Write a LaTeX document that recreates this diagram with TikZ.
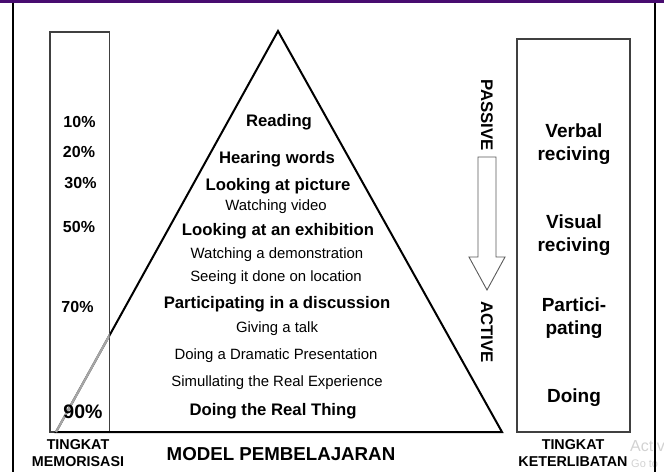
\documentclass[tikz,border=0pt]{standalone}
\usepackage{fontspec}
\setmainfont{Liberation Sans}
\definecolor{bandpurple}{RGB}{72,12,112}

\begin{document}
\begin{tikzpicture}[x=1pt,y=-1pt,
    big/.style={font=\bfseries\fontsize{16.7}{18}\selectfont},
    small/.style={font=\fontsize{14.9}{16}\selectfont},
    pct/.style={font=\bfseries\fontsize{16}{17}\selectfont},
    side/.style={font=\bfseries\fontsize{19}{23}\selectfont, align=center},
    foot/.style={font=\bfseries\fontsize{14.3}{17}\selectfont, align=center},
    vert/.style={font=\bfseries\fontsize{16.8}{17}\selectfont, rotate=-90}]
\useasboundingbox (0,0) rectangle (664,472);
% frame
\fill[bandpurple] (0,0) rectangle (664,2.5);
\draw[line width=2pt] (13,2.5) -- (13,472);
% side boxes
\draw[black!75, line width=1.2pt] (50,32) rectangle (109.5,432);
\draw[black!75, line width=1.2pt] (517,39) rectangle (630,432);
% pyramid
\coordinate (apex) at (278,31);
\coordinate (bl) at (56,432);
\coordinate (br) at (502,432);
\draw[line width=2pt, line join=miter] (bl) -- (apex) -- (br) -- cycle;
\begin{scope}
  \clip (50,32) rectangle (109.5,440);
  \draw[gray!70, line width=2.2pt] (bl) -- (apex);
\end{scope}
\draw[line width=2pt] (109.5,432) -- (br);
% percentages
\node[pct] (p10) at (79.5,122) {10\%};
\node[pct] (p20) at (79,152) {20\%};
\node[pct] (p30) at (80.5,183) {30\%};
\node[pct] (p50) at (79,227) {50\%};
\node[pct] (p70) at (77.5,307) {70\%};
\node[font=\bfseries\fontsize{19.5}{20}\selectfont] (p90) at (83,412) {90\%};
% pyramid entries
\node[big]   (reading)  at (279,122) {Reading};
\node[big]   (hearing)  at (277,159) {Hearing words};
\node[big]   (picture)  at (278,186) {Looking at picture};
\node[small] (video)    at (276,207) {Watching video};
\node[big]   (exhib)    at (278,231) {Looking at an exhibition};
\node[small] (demo)     at (277,255) {Watching a demonstration};
\node[small] (seeing)   at (276,278) {Seeing it done on location};
\node[big]   (discuss)  at (277,304) {Participating in a discussion};
\node[small] (talk)     at (277,329) {Giving a talk};
\node[small] (drama)    at (276,356) {Doing a Dramatic Presentation};
\node[small] (simul)    at (277,383) {Simullating the Real Experience};
\node[big]   (real)     at (273,411) {Doing the Real Thing};
% passive / active
\node[vert] (passive) at (487,115) {PASSIVE};
\draw[black!65, line width=0.9pt] (478,157) -- (496,157) -- (496,257) -- (505,257)
    -- (487,290) -- (469,257) -- (478,257) -- cycle;
\node[vert] (active) at (487,332) {ACTIVE};
% involvement
\node[side] (verbal) at (574,144) {Verbal\\reciving};
\node[side] (visual) at (574,235) {Visual\\reciving};
\node[side] (partic) at (574,318) {Partici-\\pating};
\node[side] (doing)  at (574,398) {Doing};
% captions
\node[foot] (memo)  at (78,453) {TINGKAT\\MEMORISASI};
\node[font=\bfseries\fontsize{18.7}{19}\selectfont] (model) at (281,454) {MODEL PEMBELAJARAN};
\node[foot] (keter) at (573,453) {TINGKAT\\KETERLIBATAN};
% watermark
\node[gray!35, font=\fontsize{16}{16}\selectfont, anchor=west, inner sep=0pt] (act) at (630,446) {Activ};
\node[gray!35, font=\fontsize{11}{11}\selectfont, anchor=west, inner sep=0pt] (goto) at (631,464) {Go to};
\draw[line width=2pt] (655,2.5) -- (655,472);
\end{tikzpicture}
\end{document}
